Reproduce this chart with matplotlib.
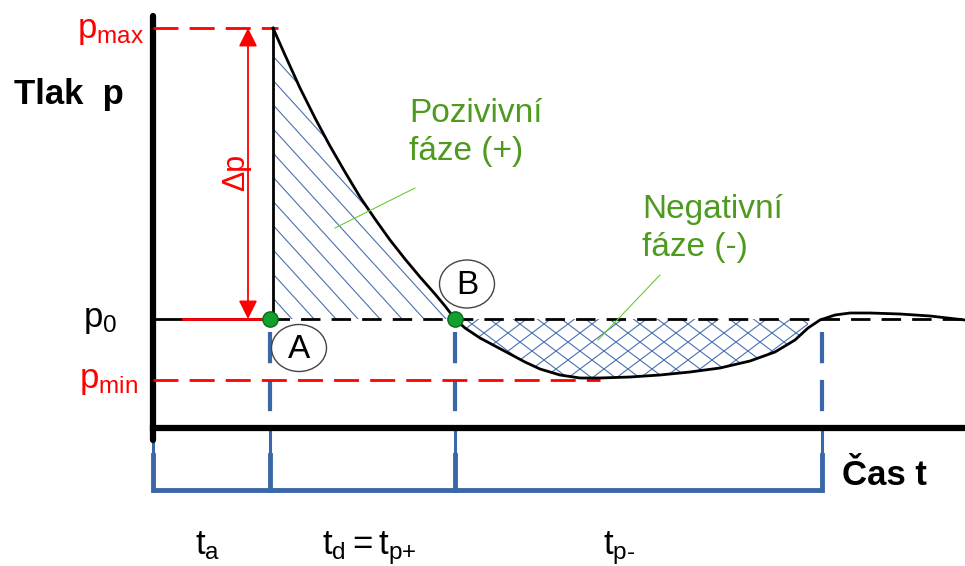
import numpy as np
import matplotlib.pyplot as plt
from matplotlib.patches import Ellipse, Polygon

plt.rcParams['font.family'] = ['Liberation Sans', 'DejaVu Sans']
plt.rcParams['mathtext.fontset'] = 'custom'
plt.rcParams['mathtext.rm'] = 'Liberation Sans'
plt.rcParams['mathtext.it'] = 'Liberation Sans'

# pressure curve (x = time, y = pressure, screen units)
t_curve = [273, 285, 300, 315, 330, 345, 360, 375, 390, 405, 420, 435, 445, 455,
           465, 480, 495, 510, 525, 540, 560, 580, 600, 630, 660, 690, 720, 750,
           775, 795, 808, 820, 835, 850, 870, 900, 930, 965]
p_curve = [28, 55, 88, 118, 146, 172, 197, 219, 240, 259, 277, 294, 306, 319,
           328, 338, 346, 354, 362, 369, 375, 378, 378, 377, 375, 372, 368, 361,
           352, 340, 328, 320, 315, 313, 313, 314, 316, 320]

# key levels and times
p_max = 28
p0 = 319
p_min = 380
t_origin = 153
t_a = 270
t_b = 455
t_end = 822
t_right = 965
axis_y = 428
bracket_y = 490

red = '#ff0000'
blue = '#3a67a8'
hatch_blue = '#4a72b0'
green = '#4d9a1e'

fig = plt.figure(figsize=(9.65, 5.66), dpi=100)
ax = fig.add_axes([0, 0, 1, 1])
ax.set_xlim(0, 965)
ax.set_ylim(566, 0)
ax.axis('off')

t = np.array(t_curve)
p = np.array(p_curve)


def hatch_region(xs, ys_top, ys_bot, slopes, step):
    # polygon of the region, lines clipped to it
    verts = list(zip(xs, ys_top)) + list(zip(xs[::-1], ys_bot[::-1]))
    poly = Polygon(verts, closed=True, facecolor='none', edgecolor='none')
    ax.add_patch(poly)
    x0, x1 = min(xs) - 400, max(xs) + 400
    for s in slopes:
        for c in np.arange(-2000, 2000, step):
            ln, = ax.plot([x0, x1], [s * (x0 - c), s * (x1 - c)],
                          color=hatch_blue, lw=0.8)
            ln.set_clip_path(poly)


pos = t <= t_b
hatch_region(t[pos], p[pos], np.full(pos.sum(), p0), [1.1], 22)
neg = (t >= t_b) & (t <= 815)
hatch_region(t[neg], np.full(neg.sum(), p0), p[neg], [0.75, -0.75], 24)

# blue time markers
for x in [t_origin, t_a, t_b, t_end]:
    ax.plot([x, x], [332, axis_y], color=blue, lw=3, dashes=(7.5, 4))
    ax.plot([x, x], [axis_y, 455], color=blue, lw=2.2)
    ax.plot([x, x], [455, bracket_y], color=blue, lw=3.5)
ax.plot([t_origin, t_end], [bracket_y, bracket_y], color=blue, lw=3.5,
        solid_capstyle='butt')

# axes
ax.plot([t_origin, t_origin], [16, 440], color='black', lw=4.5,
        solid_capstyle='round')
ax.plot([t_origin, t_right], [axis_y, axis_y], color='black', lw=4.5)

# reference levels
ax.plot([t_origin, t_a], [p0, p0], color='black', lw=2)
ax.plot([183, t_a], [p0, p0], color=red, lw=2)
ax.plot([t_a, t_right], [p0, p0], color='black', lw=2, dashes=(7, 4))
ax.plot([t_origin, 278], [p_max, p_max], color=red, lw=2, dashes=(9, 4))
ax.plot([t_origin, 600], [p_min, p_min], color=red, lw=2, dashes=(9, 4))

# shock front and curve
ax.plot([273, 273], [p_max, p0], color='black', lw=2)
ax.plot(t, p, color='black', lw=2)

# delta p arrow
ax.annotate('', xy=(248, p_max), xytext=(248, p0),
            arrowprops=dict(arrowstyle='<|-|>', color=red, lw=1.3,
                            mutation_scale=28, shrinkA=0, shrinkB=0))
ax.text(236, 172, 'Δp', color=red, fontsize=22, rotation=90,
        ha='center', va='center')

# points A, B
ax.plot([t_a, t_b], [p0, p0], 'o', color='#12a030', markeredgecolor='#0a6a1a',
        markersize=11, zorder=5)
ax.add_patch(Ellipse((299, 348), 55, 47, facecolor='white',
                     edgecolor='#444444', lw=1, zorder=4))
ax.add_patch(Ellipse((467, 284), 55, 48, facecolor='white',
                     edgecolor='#444444', lw=1, zorder=4))
ax.text(299, 349, 'A', fontsize=24, ha='center', va='center', zorder=6)
ax.text(467, 285, 'B', fontsize=24, ha='center', va='center', zorder=6)

# phase labels
ax.text(409, 98, 'Pozivivní\nfáze (+)', color=green, fontsize=24,
        ha='left', va='top', linespacing=1.3)
ax.plot([415, 335], [188, 228], color='#66cc33', lw=0.8)
ax.text(642, 194, 'Negativní\nfáze (-)', color=green, fontsize=24,
        ha='left', va='top', linespacing=1.3)
ax.plot([660, 598], [275, 340], color='#66cc33', lw=0.8)

# axis labels
ax.text(14, 104, 'Tlak  p', fontsize=25, fontweight='bold', va='baseline')
ax.text(842, 485, 'Čas t', fontsize=25, fontweight='bold', va='baseline')

ax.text(77, 38, r'$\mathrm{p_{max}}$', color=red, fontsize=25, va='baseline')
ax.text(83, 327, r'$\mathrm{p_{0}}$', color='black', fontsize=25, va='baseline')
ax.text(79, 388, r'$\mathrm{p_{min}}$', color=red, fontsize=25, va='baseline')

ax.text(195, 554, r'$\mathrm{t_{a}}$', fontsize=25, va='baseline')
ax.text(322, 554, r'$\mathrm{t_{d}=t}_{\text{p+}}$', fontsize=25, va='baseline')
ax.text(603, 554, r'$\mathrm{t}_{\text{p-}}$', fontsize=25, va='baseline')

fig.savefig('out.png', dpi=100)
